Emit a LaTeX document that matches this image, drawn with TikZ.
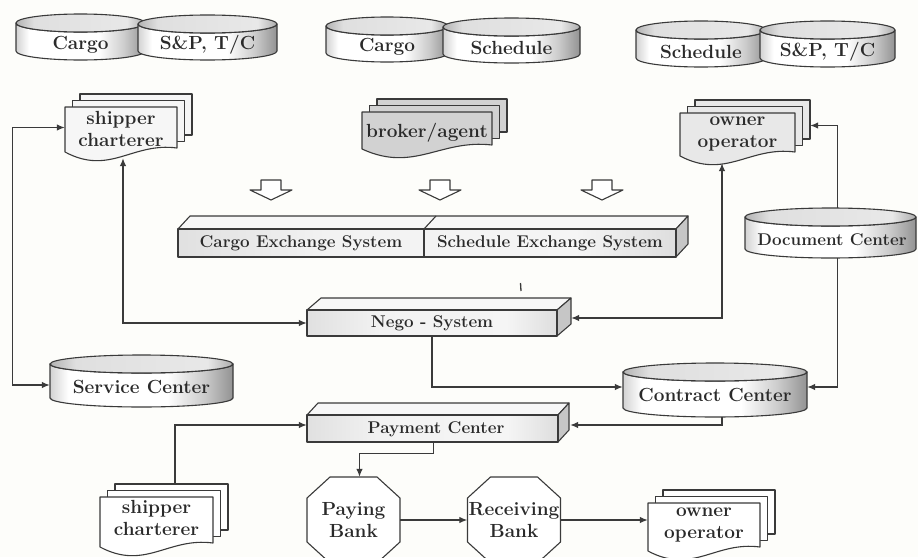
\documentclass[tikz,border=0pt]{standalone}
\usetikzlibrary{arrows.meta}

\definecolor{ink}{HTML}{3A3A3A}
\definecolor{txt}{HTML}{2A2A2A}
\definecolor{paper}{HTML}{FDFDFA}

% shadings: only the middle band (25bp..75bp) lands on the path
\pgfdeclarehorizontalshading{diskband}{100bp}{color(0bp)=(gray!35); color(25bp)=(gray!35); color(30bp)=(white); color(57bp)=(white); color(67bp)=(gray!40); color(75bp)=(gray!85); color(100bp)=(gray!85)}
\pgfdeclarehorizontalshading{disktop}{100bp}{color(0bp)=(gray!60); color(25bp)=(gray!60); color(32bp)=(gray!25); color(68bp)=(gray!18); color(75bp)=(gray!65); color(100bp)=(gray!65)}
\pgfdeclarehorizontalshading{barfront}{100bp}{color(0bp)=(gray!24); color(25bp)=(gray!24); color(40bp)=(gray!10); color(65bp)=(gray!8); color(75bp)=(gray!26); color(100bp)=(gray!26)}

\tikzset{
  ink line/.style={draw=ink, line width=1.1pt, line join=round},
  lbl/.style={font=\fontsize{19}{21.5}\selectfont\bfseries, text=txt, inner sep=0pt, align=center},
  barlbl/.style={font=\fontsize{17}{20}\selectfont\bfseries, text=txt, inner sep=0pt},
  conn/.style={draw=ink, line width=1.2pt},
  tipped/.style={conn, -{Latex[length=8pt,width=6.5pt]}},
  twotipped/.style={conn, {Latex[length=8pt,width=6.5pt]}-{Latex[length=8pt,width=6.5pt]}},
}

% flat database disk: name, x1, x2, top y, bottom y, text, text y
\newcommand\diskshape[7]{%
  \pgfmathsetmacro\dcx{(#2+#3)/2}%
  \pgfmathsetmacro\drx{(#3-#2)/2}%
  \pgfmathsetmacro\dk{0.5523*\drx}%
  \pgfmathsetmacro\dyu{#4+9}%
  \pgfmathsetmacro\dyv{#4+18}%
  \pgfmathsetmacro\dyl{#5-9}%
  \pgfmathsetmacro\dyc{(#4+#5)/2}%
  \draw[ink line, shade, shading=diskband] (#2,\dyu) -- (#2,\dyl)
     .. controls (#2,\dyl+5) and (\dcx-\dk,#5) .. (\dcx,#5)
     .. controls (\dcx+\dk,#5) and (#3,\dyl+5) .. (#3,\dyl)
     -- (#3,\dyu)
     .. controls (#3,\dyu+5) and (\dcx+\dk,\dyv) .. (\dcx,\dyv)
     .. controls (\dcx-\dk,\dyv) and (#2,\dyu+5) .. cycle;
  \draw[ink line, shade, shading=disktop] (\dcx,\dyu) ellipse [x radius=\drx, y radius=9];
  \node[inner sep=0pt, minimum width={#3-#2}, minimum height={#5-#4}] (#1) at (\dcx,\dyc) {};
  \node[lbl] (#1 text) at (\dcx,#7) {#6};
}

% stack of documents with a wavy lower edge: name, x1, x2, top y, bottom y, fill, text y, text
\newcommand\docstack[8]{%
  \pgfmathsetmacro\pw{#3-#2}%
  \foreach \k in {2,1}{%
    \draw[ink line, fill=#6] ({#2+7.5*\k},{#4-6.5*\k}) rectangle ({#3+7.5*\k},{#5-6.5*\k});}
  \draw[ink line, fill=#6] (#2,#4) -- (#3,#4) -- (#3,#5)
     .. controls ({#2+0.6*\pw},{#5-6}) and ({#2+0.4*\pw},{#5+28}) .. (#2,{#5+4}) -- cycle;
  \node[inner sep=0pt, minimum width=\pw, minimum height={#5-#4}] (#1) at ({(#2+#3)/2},{(#4+#5)/2}) {};
  \node[lbl] (#1 text) at ({(#2+#3)/2},#7) {#8};
}

% long box seen from above-left: name, x1, x2, top y, bottom y, depth dx, depth dy
\newcommand\boxbar[7]{%
  \draw[ink line, fill=gray!6] (#2,#4) -- ({#2+#6},{#4-#7}) -- ({#3+#6},{#4-#7}) -- (#3,#4) -- cycle;
  \draw[ink line, fill=gray!45] (#3,#4) -- ({#3+#6},{#4-#7}) -- ({#3+#6},{#5-#7}) -- (#3,#5) -- cycle;
  \draw[ink line, shade, shading=barfront] (#2,#4) rectangle (#3,#5);
  \node[inner sep=0pt, minimum width={#3-#2}, minimum height={#5-#4}] (#1) at ({(#2+#3)/2},{(#4+#5)/2}) {};
}

% octagonal bank: name, centre x, centre y, text
\newcommand\octbank[4]{%
  \draw[ink line, fill=white] ({#2-23.5},{#3-43}) -- ({#2+23.5},{#3-43}) -- ({#2+46.5},{#3-22})
     -- ({#2+46.5},{#3+22}) -- ({#2+23.5},{#3+43}) -- ({#2-23.5},{#3+43})
     -- ({#2-46.5},{#3+22}) -- ({#2-46.5},{#3-22}) -- cycle;
  \node[lbl, minimum width=93pt, minimum height=86pt] (#1) at (#2,#3) {#4};
}

% hollow block arrow pointing down, centred on x
\newcommand\hollowdown[1]{%
  \draw[ink line, fill=white] ({#1-10},180) -- ({#1+10},180) -- ({#1+10},190) -- ({#1+21},190)
     -- (#1,200) -- ({#1-21},190) -- ({#1-10},190) -- cycle;
}

\begin{document}
\begin{tikzpicture}[x=1pt, y=-1pt]
\useasboundingbox (0,0) rectangle (918,557);
\fill[paper] (0,0) rectangle (918,557);

% data stores along the top
\diskshape{cargoA}{16}{145}{14}{60}{Cargo}{45}
\diskshape{spA}{138}{277}{15}{60}{S\&P, T/C}{45}
\diskshape{cargoB}{326}{448}{17}{62}{Cargo}{47}
\diskshape{schedB}{443}{580}{18}{63}{Schedule}{48}
\diskshape{schedC}{636}{766}{21}{67}{Schedule}{52}
\diskshape{spC}{760}{895}{21}{67}{S\&P, T/C}{52}

% parties
\docstack{ship1}{65}{177}{107}{148}{gray!7}{129}{shipper\\charterer}
\docstack{broker}{362}{492}{112}{145}{gray!35}{133}{broker/agent}
\docstack{own1}{680}{795}{113}{152}{gray!18}{134}{owner\\operator}

% feeds into the exchange systems
\hollowdown{271}
\hollowdown{440}
\hollowdown{602}

% exchange systems
\boxbar{xbar}{178}{676}{229}{257}{12}{13}
\draw[ink line] (424,229) -- (424,257);
\draw[ink line] (424,229) -- (436,216);
\node[barlbl] (xcargo) at (301,243) {Cargo Exchange System};
\node[barlbl] (xsched) at (550,243) {Schedule Exchange System};

% negotiation and payment
\boxbar{nego}{307}{557}{310}{336}{14}{12}
\node[barlbl] (nego text) at (432,323) {Nego - System};
\boxbar{paybar}{307}{558}{415}{442}{11}{12}
\node[barlbl] (paybar text) at (436,429) {Payment Center};

% centres
\diskshape{svc}{50}{233}{355}{407}{Service Center}{387}
\diskshape{ctr}{623}{807}{363}{417}{Contract Center}{395}

% settlement chain
\docstack{ship2}{100}{213}{497}{543}{white}{518}{shipper\\charterer}
\octbank{paybank}{353.5}{520}{Paying\\Bank}
\octbank{recvbank}{514}{520}{Receiving\\Bank}
\docstack{own2}{648}{760}{503}{547}{white}{525}{owner\\operator}

% connectors
\draw[twotipped] (ship1.west) -- ++(-52,0) |- ([yshift=-4pt]svc.west);
\draw[twotipped] ([xshift=2pt,yshift=-10pt]ship1.south) |- (nego.west);
\draw[twotipped] ([xshift=-15.5pt,yshift=-11pt]own1.south) |- ([xshift=14pt,yshift=5pt]nego.east);
\draw[twotipped] ([xshift=15pt,yshift=7pt]own1.east) -- ++(27,0) |- ([yshift=3pt]ctr.east);
\draw[tipped] (nego.south) |- ([yshift=3pt]ctr.west);
\draw[tipped] ([xshift=7pt]ctr.south) |- ([xshift=12pt,yshift=3.5pt]paybar.east);
\draw[tipped] ([xshift=1pt]paybar.south) -- ++(0,11) -| ([xshift=6pt]paybank.north);
\draw[tipped] ([xshift=18.5pt,yshift=13pt]ship2.north) |- ([yshift=3.5pt]paybar.west);
\draw[tipped] (paybank.east) -- (recvbank.west);
\draw[tipped] (recvbank.east) -- (recvbank.east -| own2.west);

% small stray mark above the negotiation box
\draw[ink, line width=1.3pt] (520.5,283) -- (521,291);

% document centre sits over the owner/contract line
\diskshape{docc}{745}{916}{208}{258}{}{240}
\node[lbl, font=\fontsize{17}{20}\selectfont\bfseries] (docc label) at (832,240) {Document Center};
\end{tikzpicture}
\end{document}
